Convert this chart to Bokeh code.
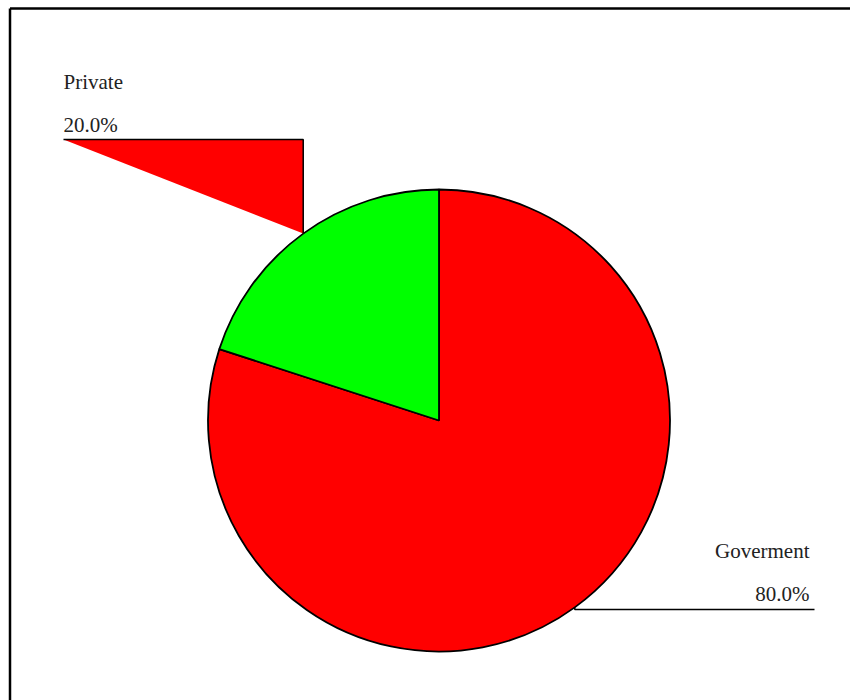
import math
from bokeh.plotting import figure
from bokeh.models import Range1d, ColumnDataSource
from bokeh.core.properties import value
from bokeh.embed import file_html
from bokeh.resources import INLINE

# ---- data ----
categories = ["Goverment", "Private"]
values = [80, 20]
colors = ["#ff0000", "#00ff00"]

W, H = 850, 700
p = figure(width=W, height=H, output_backend="svg", toolbar_location=None,
           x_range=Range1d(0, W), y_range=Range1d(0, H), min_border=0)
p.axis.visible = False
p.grid.visible = False
p.outline_line_color = None
p.background_fill_color = "white"
p.border_fill_color = "white"

# frame (left and top edges visible)
p.multi_line(xs=[[9.5, 9.5], [9.5, W]], ys=[[0, H - 8], [H - 8, H - 8]],
             line_color="black", line_width=2.5)

cx, cy, r = 438.5, H - 420, 231
total = sum(values)
starts, ends, mids = [], [], []
a = 90.0
for v in values:
    e = a - v / total * 360.0
    starts.append(math.radians(a))
    ends.append(math.radians(e))
    mids.append(math.radians((a + e) / 2))
    a = e

src = ColumnDataSource(dict(start=starts, end=ends, color=colors))
p.wedge(x=cx, y=cy, radius=r, start_angle="start", end_angle="end",
        direction="clock", fill_color="color", line_color="black",
        line_width=1.8, source=src)

pct = [f"{v / total * 100:.1f}%" for v in values]
font = value("Liberation Serif")
dy = 7  # baseline correction

# Goverment callout (right, below)
m = mids[0]
ax, ay = cx + r * math.cos(m), cy + r * math.sin(m)
ly = H - 609
p.line([ax, ax, 814], [ay, ly, ly], line_color="black", line_width=1.5)
p.text(x=[809, 809], y=[H - 557 + dy, H - 600 + dy], text=[categories[0], pct[0]],
       text_font=font, text_font_size="21px", text_align="right",
       text_baseline="alphabetic", text_color="#222222")

# Private callout (left, above)
m = mids[1]
bx, by = cx + r * math.cos(m), cy + r * math.sin(m)
ey = H - 139
p.patch([bx, bx, 63], [by, ey, ey], fill_color=colors[0], line_color=None)
p.line([bx, bx, 63], [by, ey, ey], line_color="black", line_width=1.5)
p.text(x=[63, 63], y=[H - 88 + dy, H - 131 + dy], text=[categories[1], pct[1]],
       text_font=font, text_font_size="21px", text_align="left",
       text_baseline="alphabetic", text_color="#222222")

open("out.html", "w").write(file_html(p, INLINE))
